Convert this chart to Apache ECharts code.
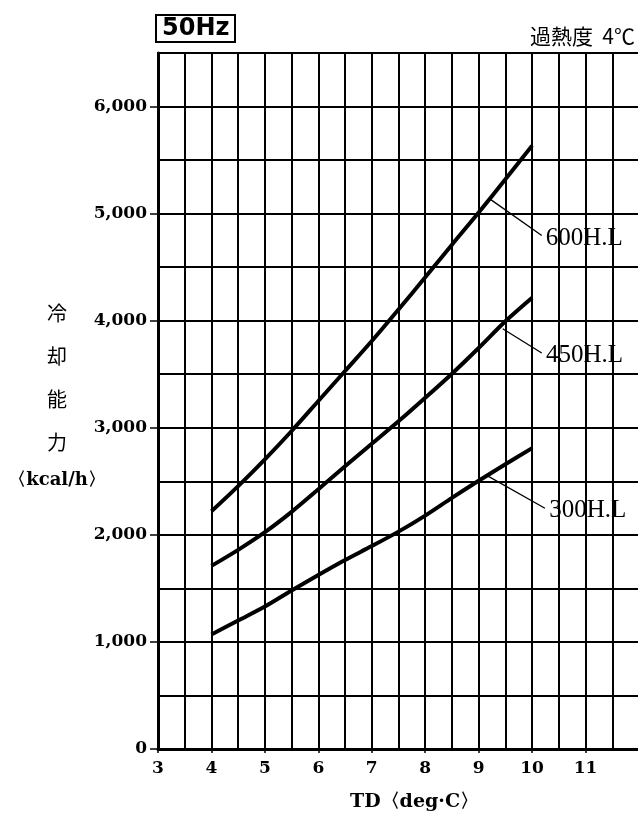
<!DOCTYPE html>
<html>
<head>
<meta charset="utf-8">
<script src="https://cdn.jsdelivr.net/npm/echarts@6/dist/echarts.min.js"></script>
<style>
  html, body { margin: 0; padding: 0; background: #fff; }
  #chart { width: 638px; height: 817px; }
</style>
</head>
<body>
<div id="chart"></div>
<script>
// TD (deg C) sample points along the curves
const td = [4, 4.5, 5, 5.5, 6, 6.5, 7, 7.5, 8, 8.5, 9, 9.5, 10];
// cooling capacity (kcal/h)
const hl600 = [2220, 2455, 2705, 2970, 3250, 3530, 3810, 4105, 4405, 4710, 5010, 5320, 5635];
const hl450 = [1710, 1860, 2025, 2215, 2425, 2640, 2850, 3060, 3280, 3505, 3745, 3995, 4215];
const hl300 = [1070, 1200, 1330, 1480, 1625, 1765, 1895, 2030, 2180, 2345, 2505, 2660, 2810];

const xTicks = [3, 4, 5, 6, 7, 8, 9, 10, 11];
const yTicks = [0, 1000, 2000, 3000, 4000, 5000, 6000];

// leader lines: [from, to] in data space, label at the end
const leaders = {
  '600H.L': [[9.2, 5140], [10.18, 4795]],
  '450H.L': [[9.45, 3925], [10.18, 3698]],
  '300H.L': [[9.15, 2555], [10.24, 2248]]
};

const serifBold = { fontFamily: 'DejaVu Serif', fontWeight: 'bold', fontSize: 17, color: '#000' };
const gridLine = { show: true, lineStyle: { color: '#000', width: 2 } };

function curve(name, vals) {
  return {
    name: name,
    type: 'line',
    smooth: 0.3,
    showSymbol: false,
    data: td.map((x, i) => [x, vals[i]]),
    lineStyle: { color: '#000', width: 4 },
    markLine: {
      silent: true,
      symbol: 'none',
      lineStyle: { color: '#000', width: 1.3, type: 'solid' },
      label: {
        show: true,
        position: 'end',
        distance: 5,
        formatter: name,
        fontFamily: 'Liberation Serif',
        fontSize: 25,
        color: '#000'
      },
      data: [[{ coord: leaders[name][0] }, { coord: leaders[name][1] }]]
    }
  };
}

const chart = echarts.init(document.getElementById('chart'));
chart.setOption({
  backgroundColor: '#fff',
  animation: false,
  title: [
    {
      text: '50Hz',
      left: 156,
      top: 15,
      borderColor: '#000',
      borderWidth: 2,
      padding: [2, 6, 1, 6],
      textStyle: { fontFamily: 'DejaVu Sans', fontWeight: 'bold', fontSize: 24, color: '#000' }
    },
    {
      text: '過熱度  4℃',
      right: 3,
      top: 26,
      padding: 0,
      textStyle: { fontFamily: 'Noto Sans CJK JP', fontWeight: 'normal', fontSize: 21, color: '#000' }
    }
  ],
  grid: {
    show: true,
    left: 158,
    top: 53,
    right: -1,
    bottom: 68,
    containLabel: false,
    outerBoundsMode: 'none',
    borderColor: '#000',
    borderWidth: 2
  },
  xAxis: [
    {
      type: 'value',
      min: 3,
      max: 12,
      interval: 0.5,
      name: 'TD〈deg·C〉',
      nameLocation: 'middle',
      nameGap: 44,
      nameMoveOverlap: false,
      nameTextStyle: { fontFamily: 'DejaVu Serif', fontWeight: 'bold', fontSize: 19, color: '#000', padding: [0, 0, 0, 32] },
      axisLine: { lineStyle: { color: '#000', width: 3 } },
      axisTick: { show: false },
      axisLabel: Object.assign({ customValues: xTicks, margin: 11 }, serifBold),
      splitLine: gridLine
    },
    {
      // tick marks only at whole degrees
      type: 'value',
      min: 3,
      max: 12,
      interval: 1,
      position: 'bottom',
      axisLine: { show: false },
      axisTick: { show: true, length: 4, lineStyle: { color: '#000', width: 1.5 } },
      axisLabel: { show: false },
      splitLine: { show: false }
    }
  ],
  yAxis: [
    {
      type: 'value',
      min: 0,
      max: 6500,
      interval: 500,
      name: '{c|冷}\n{c|却}\n{c|能}\n{c|力}\n{k|〈kcal/h〉}',
      nameLocation: 'middle',
      nameRotate: 0,
      nameGap: 101,
      nameMoveOverlap: false,
      nameTextStyle: {
        align: 'center',
        verticalAlign: 'middle',
        padding: [0, 0, 14, 0],
        rich: {
          c: { fontFamily: 'Noto Sans CJK JP', fontSize: 20, lineHeight: 43, color: '#000' },
          k: { fontFamily: 'DejaVu Serif', fontWeight: 'bold', fontSize: 18, lineHeight: 33, color: '#000' }
        }
      },
      axisLine: { show: true, lineStyle: { color: '#000', width: 3 } },
      axisTick: { show: false },
      axisLabel: Object.assign({
        customValues: yTicks,
        margin: 11,
        formatter: v => v.toLocaleString('en-US')
      }, serifBold),
      splitLine: gridLine
    },
    {
      // tick marks only at every 1,000
      type: 'value',
      min: 0,
      max: 6500,
      interval: 1000,
      position: 'left',
      axisLine: { show: false },
      axisTick: { show: true, customValues: yTicks, length: 8, lineStyle: { color: '#000', width: 1.5 } },
      axisLabel: { show: false },
      splitLine: { show: false }
    }
  ],
  series: [
    curve('600H.L', hl600),
    curve('450H.L', hl450),
    curve('300H.L', hl300)
  ]
});
</script>
</body>
</html>
